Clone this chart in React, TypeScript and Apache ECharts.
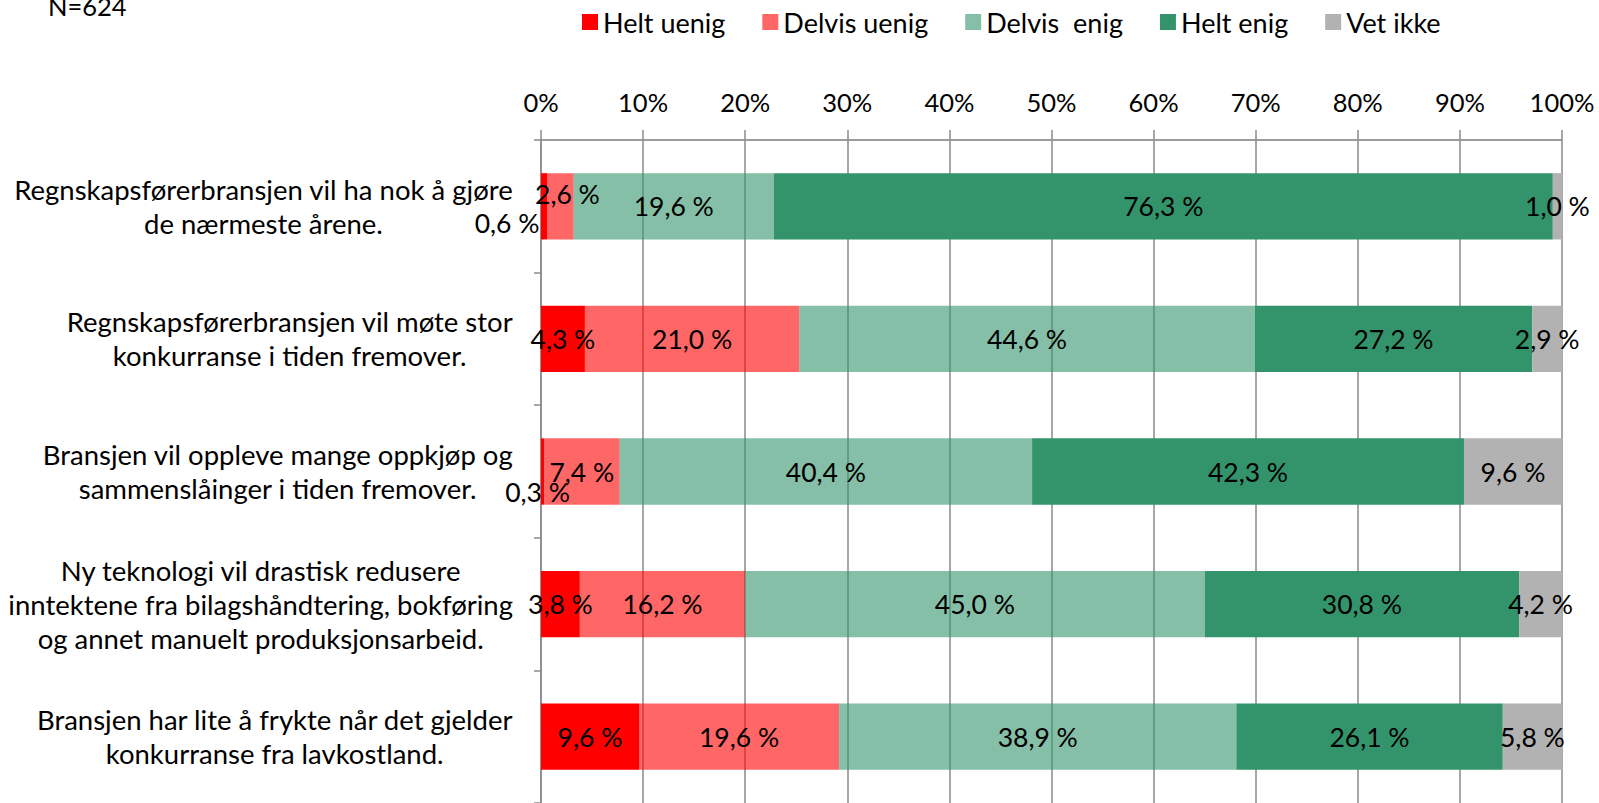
import React, { useEffect, useRef } from "react";
import * as echarts from "echarts";

const categories = [
  "Regnskapsførerbransjen vil ha nok å gjøre\nde nærmeste årene.",
  "Regnskapsførerbransjen vil møte stor\nkonkurranse i tiden fremover.",
  "Bransjen vil oppleve mange oppkjøp og\nsammenslåinger i tiden fremover.",
  "Ny teknologi vil drastisk redusere\ninntektene fra bilagshåndtering, bokføring\nog annet manuelt produksjonsarbeid.",
  "Bransjen har lite å frykte når det gjelder\nkonkurranse fra lavkostland.",
];

const seriesNames = ["Helt uenig", "Delvis uenig", "Delvis  enig", "Helt enig", "Vet ikke"];

const heltUenig = [0.6, 4.3, 0.3, 3.8, 9.6];
const delvisUenig = [2.6, 21.0, 7.4, 16.2, 19.6];
const delvisEnig = [19.6, 44.6, 40.4, 45.0, 38.9];
const heltEnig = [76.3, 27.2, 42.3, 30.8, 26.1];
const vetIkke = [1.0, 2.9, 9.6, 4.2, 5.8];

const xTicks = [0, 10, 20, 30, 40, 50, 60, 70, 80, 90, 100];

const seriesColors = [
  "#FF0000",
  "rgba(255,0,0,0.6)",
  "rgba(51,148,108,0.6)",
  "#33946C",
  "#B2B2B2",
];

// label nudges for tiny overlapping segments: [seriesIndex][categoryIndex] -> [dx, dy]
const labelOffsets: Record<string, [number, number]> = {
  "0-0": [-37, 17],
  "1-0": [7, -12],
  "0-2": [-5, 20],
};

const FONT = "Lato";

export default function App() {
  const ref = useRef<HTMLDivElement>(null);
  useEffect(() => {
    if (!ref.current) return;
    const chart = echarts.init(ref.current, undefined, { renderer: "svg" });
    const allValues = [heltUenig, delvisUenig, delvisEnig, heltEnig, vetIkke];
    const series = allValues.map((vals, si) => ({
      name: seriesNames[si],
      type: "bar",
      stack: "total",
      barWidth: "50%",
      itemStyle: { color: seriesColors[si] },
      label: {
        show: true,
        position: "inside",
        color: "#000",
        fontFamily: FONT,
        fontSize: 26.5,
        formatter: (p: any) => Number(p.value).toFixed(1).replace(".", ",") + " %",
      },
      data: vals.map((v, ci) => {
        const off = labelOffsets[`${si}-${ci}`];
        return off ? { value: v, label: { offset: off } } : { value: v };
      }),
    }));

    chart.setOption({
      animation: false,
      backgroundColor: "#fff",
      textStyle: { fontFamily: FONT },
      legend: {
        data: seriesNames,
        left: 582,
        top: 7,
        padding: 0,
        itemWidth: 16,
        itemHeight: 16,
        itemGap: 37,
        icon: "rect",
        textStyle: { fontFamily: FONT, fontSize: 27, color: "#000", lineHeight: 30 },
      },
      graphic: [
        {
          type: "text",
          x: 48,
          y: 6,
          style: {
            text: "N=624",
            fontFamily: FONT,
            fontSize: 25.5,
            fill: "#000",
            verticalAlign: "middle",
          },
        },
      ],
      grid: { left: 541, right: 37, top: 140, height: 666, containLabel: false },
      xAxis: {
        type: "value",
        position: "top",
        min: xTicks[0],
        max: xTicks[xTicks.length - 1],
        interval: 10,
        axisLine: { show: true, lineStyle: { color: "#9c9c9c", width: 2 } },
        axisTick: { show: true, length: 10, lineStyle: { color: "#8a8a8a", width: 1.5 } },
        splitLine: { show: true, lineStyle: { color: "#8a8a8a", width: 1.5 } },
        axisLabel: {
          formatter: "{value}%",
          fontFamily: FONT,
          fontSize: 25.5,
          color: "#000",
          margin: 25,
        },
      },
      yAxis: {
        type: "category",
        inverse: true,
        data: categories,
        axisLine: { show: true, lineStyle: { color: "#8a8a8a", width: 1.5 } },
        axisTick: { show: true, length: 7, lineStyle: { color: "#8a8a8a", width: 1.5 } },
        axisLabel: {
          margin: 28,
          align: "right",
          formatter: (v: string) =>
            v
              .split("\n")
              .map((l) => `{c|${l}}`)
              .join("\n"),
          rich: {
            c: {
              align: "center",
              fontFamily: FONT,
              fontSize: 27.5,
              lineHeight: 34,
              color: "#000",
            },
          },
        },
      },
      series,
    });
    return () => chart.dispose();
  }, []);

  return (
    <div
      ref={ref}
      style={{ position: "absolute", left: 0, top: 0, width: 1599, height: 803 }}
    />
  );
}
